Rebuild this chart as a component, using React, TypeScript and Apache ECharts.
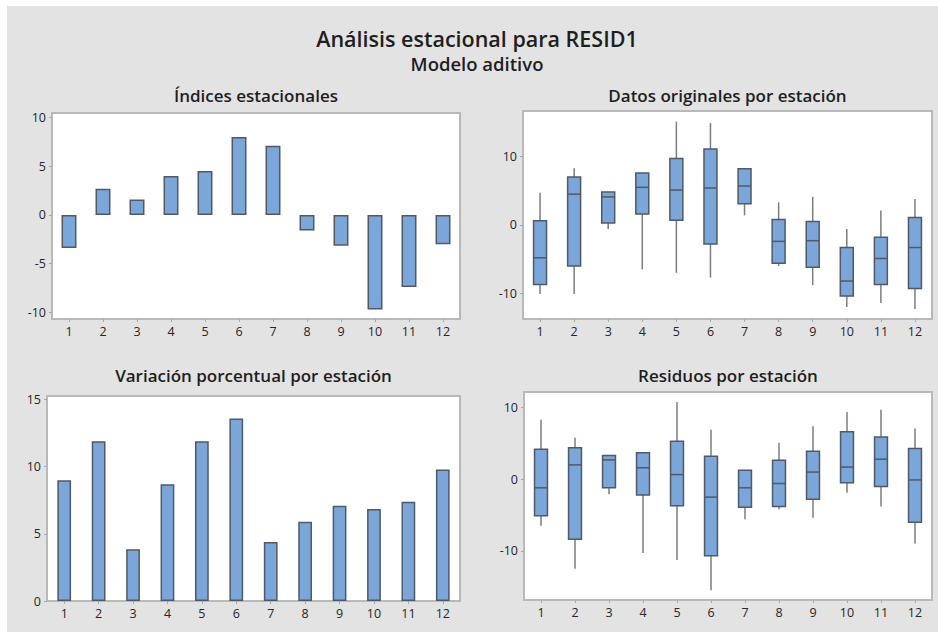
import React, { useEffect, useRef } from "react";
import * as echarts from "echarts";

const categories = ["1", "2", "3", "4", "5", "6", "7", "8", "9", "10", "11", "12"];

const mainTitle = "Análisis estacional para RESID1";
const subTitle = "Modelo aditivo";
const panelTitles = [
  "Índices estacionales",
  "Datos originales por estación",
  "Variación porcentual por estación",
  "Residuos por estación",
];

// Panel 1: seasonal indices
const seasonalIndices = [-3.4, 2.7, 1.6, 4.0, 4.5, 8.0, 7.1, -1.6, -3.15, -9.7, -7.4, -3.0];

// Panel 3: percent variation by season
const percentVariation = [9.0, 11.9, 3.85, 8.7, 11.9, 13.6, 4.4, 5.9, 7.1, 6.85, 7.4, 9.8];

// Panel 2: original data by season [min, q1, median, q3, max]
const originalBoxes = [
  [-10.1, -8.7, -4.8, 0.6, 4.7],
  [-10.1, -6.0, 4.5, 7.0, 8.3],
  [-0.6, 0.3, 4.1, 4.8, 4.8],
  [-6.5, 1.6, 5.5, 7.6, 7.6],
  [-7.0, 0.7, 5.1, 9.7, 15.1],
  [-7.7, -2.8, 5.4, 11.1, 14.9],
  [1.4, 3.1, 5.7, 8.2, 8.2],
  [-6.0, -5.6, -2.4, 0.8, 3.3],
  [-8.8, -6.2, -2.3, 0.5, 4.1],
  [-12.0, -10.4, -8.2, -3.3, -0.6],
  [-11.4, -8.7, -4.9, -1.8, 2.1],
  [-12.3, -9.3, -3.3, 1.1, 3.8],
];

// Panel 4: residuals by season [min, q1, median, q3, max]
const residualBoxes = [
  [-6.5, -5.1, -1.2, 4.2, 8.3],
  [-12.5, -8.4, 2.0, 4.4, 5.8],
  [-2.1, -1.2, 2.7, 3.3, 3.3],
  [-10.3, -2.2, 1.6, 3.7, 3.7],
  [-11.3, -3.7, 0.65, 5.3, 10.8],
  [-15.5, -10.7, -2.5, 3.2, 6.9],
  [-5.6, -3.9, -1.2, 1.26, 1.26],
  [-4.2, -3.8, -0.6, 2.65, 5.1],
  [-5.4, -2.8, 1.0, 3.9, 7.4],
  [-1.9, -0.5, 1.7, 6.65, 9.4],
  [-3.8, -1.0, 2.8, 5.9, 9.7],
  [-9.0, -6.0, -0.1, 4.3, 7.1],
];

const yTicks1 = [-10, -5, 0, 5, 10];
const yTicks2 = [-10, 0, 10];
const yTicks3 = [0, 5, 10, 15];
const yTicks4 = [-10, 0, 10];

const FONT = "'Open Sans', 'Noto Sans', sans-serif";
const FILL = "#7ba6da";
const EDGE = "#4f5a66";
const WHISKER = "#7d7d7d";

const grids = [
  { left: 45, top: 107, width: 408, height: 206 },
  { left: 516, top: 105, width: 409, height: 208 },
  { left: 40, top: 390, width: 413, height: 205 },
  { left: 517, top: 386, width: 408, height: 208 },
];

const yRanges = [
  { min: -10.67, max: 10.46, ticks: yTicks1 },
  { min: -13.75, max: 16.66, ticks: yTicks2 },
  { min: 0, max: 15.27, ticks: yTicks3 },
  { min: -16.88, max: 12.19, ticks: yTicks4 },
];

function boxRender(params: any, api: any) {
  const idx = api.value(0);
  const pMin = api.coord([idx, api.value(1)]);
  const pQ1 = api.coord([idx, api.value(2)]);
  const pMed = api.coord([idx, api.value(3)]);
  const pQ3 = api.coord([idx, api.value(4)]);
  const pMax = api.coord([idx, api.value(5)]);
  const halfW = api.size([1, 0])[0] * 0.19;
  const x = pMed[0];
  return {
    type: "group",
    children: [
      {
        type: "line",
        shape: { x1: x, y1: pMin[1], x2: x, y2: pMax[1] },
        style: { stroke: WHISKER, lineWidth: 1.5 },
      },
      {
        type: "rect",
        shape: { x: x - halfW, y: pQ3[1], width: halfW * 2, height: pQ1[1] - pQ3[1] },
        style: { fill: FILL, stroke: EDGE, lineWidth: 1.5 },
      },
      {
        type: "line",
        shape: { x1: x - halfW, y1: pMed[1], x2: x + halfW, y2: pMed[1] },
        style: { stroke: EDGE, lineWidth: 1.5 },
      },
    ],
  };
}

export default function App() {
  const ref = useRef<HTMLDivElement>(null);

  useEffect(() => {
    if (!ref.current) return;
    const chart = echarts.init(ref.current, undefined, { renderer: "svg" });

    const grid = grids.map((g) => ({
      ...g,
      show: true,
      backgroundColor: "#ffffff",
      borderColor: "#b9b9b9",
      borderWidth: 2,
      containLabel: false,
    }));

    const xAxis = grids.map((_, i) => ({
      type: "category",
      gridIndex: i,
      data: categories,
      boundaryGap: true,
      axisLine: { show: false, onZero: false },
      axisTick: { show: true, alignWithLabel: true, length: 3, lineStyle: { color: "#a8a8a8", width: 1 } },
      axisLabel: { color: "#262626", fontSize: 12.5, margin: 6, fontFamily: FONT },
      splitLine: { show: false },
    }));

    const yAxis = yRanges.map((r, i) => ({
      type: "value",
      gridIndex: i,
      min: r.min,
      max: r.max,
      axisLine: { show: false, onZero: false },
      splitLine: { show: false },
      axisTick: { show: true, length: 3, customValues: r.ticks, lineStyle: { color: "#a8a8a8", width: 1 } },
      axisLabel: { color: "#262626", fontSize: 12.5, margin: 6, fontFamily: FONT, customValues: r.ticks },
    }));

    const toBoxData = (boxes: number[][]) => boxes.map((b, i) => [i, ...b]);

    const titleCenters = grids.map((g) => g.left + g.width / 2);
    const titleYs = [89, 89, 369, 369];

    const option: any = {
      animation: false,
      backgroundColor: "#e3e3e3",
      grid,
      xAxis,
      yAxis,
      series: [
        {
          type: "bar",
          xAxisIndex: 0,
          yAxisIndex: 0,
          data: seasonalIndices,
          barWidth: "44%",
          itemStyle: { color: FILL, borderColor: EDGE, borderWidth: 1.5 },
        },
        {
          type: "custom",
          xAxisIndex: 1,
          yAxisIndex: 1,
          data: toBoxData(originalBoxes),
          encode: { x: 0, y: [1, 2, 3, 4, 5] },
          renderItem: boxRender,
        },
        {
          type: "bar",
          xAxisIndex: 2,
          yAxisIndex: 2,
          data: percentVariation,
          barWidth: "40%",
          itemStyle: { color: FILL, borderColor: EDGE, borderWidth: 1.5 },
        },
        {
          type: "custom",
          xAxisIndex: 3,
          yAxisIndex: 3,
          data: toBoxData(residualBoxes),
          encode: { x: 0, y: [1, 2, 3, 4, 5] },
          renderItem: boxRender,
        },
      ],
      graphic: [
        {
          type: "text",
          x: 470,
          y: 32,
          style: {
            text: mainTitle,
            fill: "#1e1e1e",
            font: `600 21.5px ${FONT}`,
            textAlign: "center",
            textVerticalAlign: "middle",
          },
        },
        {
          type: "text",
          x: 470,
          y: 57,
          style: {
            text: subTitle,
            fill: "#1e1e1e",
            font: `600 18.5px ${FONT}`,
            textAlign: "center",
            textVerticalAlign: "middle",
          },
        },
        ...panelTitles.map((t, i) => ({
          type: "text",
          x: titleCenters[i],
          y: titleYs[i],
          style: {
            text: t,
            fill: "#1e1e1e",
            font: `600 17px ${FONT}`,
            textAlign: "center",
            textVerticalAlign: "middle",
          },
        })),
      ],
    };

    chart.setOption(option);
    return () => chart.dispose();
  }, []);

  return (
    <div style={{ position: "fixed", left: 0, top: 0, width: 938, height: 632, background: "#ffffff" }}>
      <div ref={ref} style={{ position: "absolute", left: 7, top: 6, width: 931, height: 626 }} />
    </div>
  );
}
